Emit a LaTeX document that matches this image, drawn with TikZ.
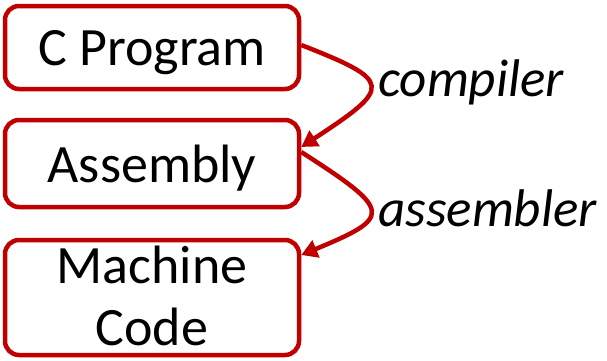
\documentclass[tikz,border=0pt]{standalone}
\usepackage{fontspec}
\setmainfont{Carlito}
\usetikzlibrary{arrows.meta}
\definecolor{boxred}{HTML}{C00000}
\begin{document}
\begin{tikzpicture}[x=1pt,y=-1pt,
  stage/.style={draw=boxred, line width=4.5pt, rounded corners=14pt,
    minimum width=294pt, inner sep=0pt},
  caption/.style={anchor=base, inner sep=0pt, font=\fontsize{54}{62}\selectfont},
  flow/.style={draw=boxred, line width=4.5pt,
    -{Triangle[length=16pt,width=18pt]}},
  tool/.style={anchor=base west, inner sep=0pt,
    font=\fontsize{53}{60}\selectfont\itshape}]
\useasboundingbox (0,0) rectangle (607,360);
% the three stages
\node[stage, minimum height=83pt] (src) at (152,47.5) {};
\node[stage, minimum height=87pt] (asm) at (152,163.5) {};
\node[stage, minimum height=115pt] (bin) at (152,297.5) {};
\node[caption] (srct) at (152,65) {C Program};
\node[caption] (asmt) at (152,182) {Assembly};
\node[caption] (bint1) at (152,283) {Machine};
\node[caption] (bint2) at (152,345) {Code};
% translation steps
\draw[flow] ([yshift=2.5pt]src.east) .. controls (393,81) and (393,87) .. ([yshift=16.5pt]asm.east);
\draw[flow] ([yshift=11.5pt]asm.east) .. controls (393,211) and (393,217) .. ([yshift=42.5pt]bin.east);
\node[tool] (cc) at (378,96) {compiler};
\node[tool] (as) at (378,226) {assembler};
\end{tikzpicture}
\end{document}
